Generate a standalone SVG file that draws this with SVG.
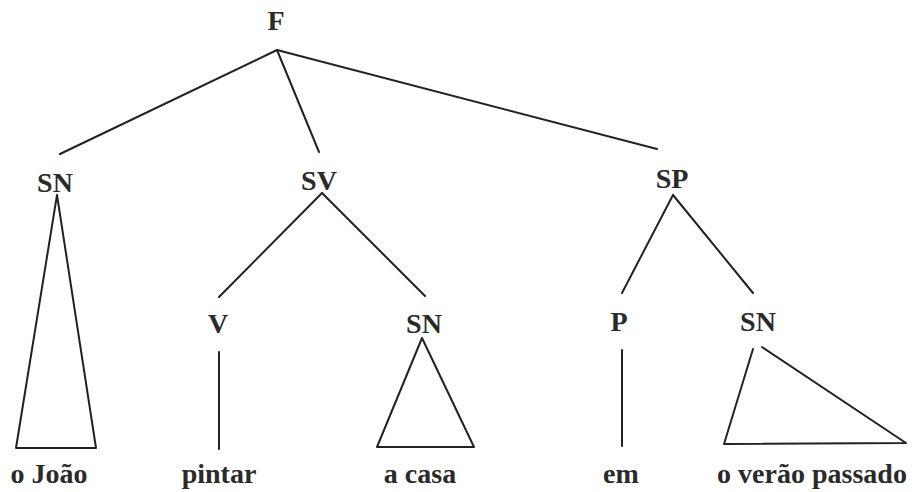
<svg xmlns="http://www.w3.org/2000/svg" width="922" height="492" viewBox="0 0 922 492">
<style>
text{font-family:"Liberation Serif","DejaVu Serif",serif;font-size:28px;font-weight:bold;fill:#2a2a2a;text-anchor:middle}
.e{stroke:#222;stroke-width:2;fill:none;stroke-linecap:round;stroke-linejoin:round}
</style>
<rect width="922" height="492" fill="#fff"/>
<g id="connectors">
<line class="e" x1="277" y1="50" x2="60" y2="154"/>
<line class="e" x1="277" y1="50" x2="319" y2="152"/>
<line class="e" x1="277" y1="50" x2="657" y2="149"/>
<line class="e" x1="322" y1="193" x2="219" y2="297"/>
<line class="e" x1="322" y1="193" x2="425" y2="296"/>
<line class="e" x1="673" y1="195" x2="622" y2="293"/>
<line class="e" x1="673" y1="195" x2="753" y2="293"/>
<line class="e" x1="219" y1="352" x2="219" y2="449"/>
<line class="e" x1="622" y1="350" x2="622" y2="446"/>
</g>
<g id="F"><text x="276" y="30">F</text></g>
<g id="SN1"><text x="55" y="192">SN</text><polygon class="e" points="57,195 16,448 96,448"/></g>
<g id="SV"><text x="319" y="190">SV</text></g>
<g id="SP"><text x="672" y="188">SP</text></g>
<g id="V"><text x="218" y="333">V</text></g>
<g id="SN2"><text x="424" y="333">SN</text><polygon class="e" points="422,338 377,447 474,447"/></g>
<g id="P"><text x="619" y="331">P</text></g>
<g id="SN3"><text x="758" y="331">SN</text><path class="e" d="M753,349 L724,444 L906,443 L762,347"/></g>
<g id="words">
<text x="49" y="483">o João</text>
<text x="219" y="483">pintar</text>
<text x="420" y="483">a casa</text>
<text x="621" y="483">em</text>
<text x="812" y="483">o verão passado</text>
</g>
</svg>
